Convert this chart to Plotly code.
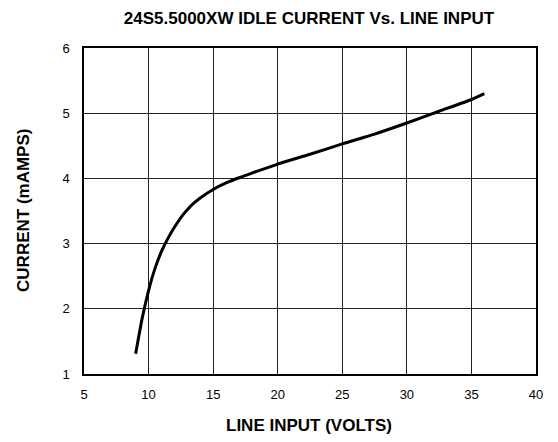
import plotly.graph_objects as go

line_input_v = [9.0, 9.5, 10.0, 10.5, 11.0, 11.5, 12.0, 12.5, 13.0, 13.5, 14.0, 15.0, 16.0, 17.0, 18.0, 20.0, 22.5, 25.0, 27.5, 30.0, 32.5, 35.0, 36.0]
idle_current_ma = [1.31, 1.85, 2.28, 2.62, 2.88, 3.08, 3.25, 3.40, 3.52, 3.62, 3.70, 3.83, 3.93, 4.01, 4.08, 4.22, 4.37, 4.53, 4.68, 4.85, 5.03, 5.21, 5.30]

title_text = "24S5.5000XW IDLE CURRENT Vs. LINE INPUT"
x_title = "LINE INPUT (VOLTS)"
y_title = "CURRENT (mAMPS)"
x_ticks = [5, 10, 15, 20, 25, 30, 35, 40]
y_ticks = [1, 2, 3, 4, 5, 6]

fig = go.Figure()
fig.add_trace(go.Scatter(
    x=line_input_v, y=idle_current_ma, mode="lines",
    line=dict(color="black", width=3, shape="spline", smoothing=0.6),
    showlegend=False, hoverinfo="skip"))

font_family = "Liberation Sans, Arial, Helvetica, sans-serif"
# page body has an 8px margin, so the figure is drawn 8px in from the window edge
W, H = 550, 434
ml, mr, mt, mb = 75.5, 21.5, 39.7, 68.3
pw, ph = W - ml - mr, H - mt - mb
fig.update_layout(
    width=W, height=H,
    margin=dict(l=ml, r=mr, t=mt, b=mb),
    paper_bgcolor="white", plot_bgcolor="white",
    font=dict(family=font_family, size=13, color="black"),
    title=dict(text="<b>" + title_text + "</b>", x=(309 - 8) / W, xanchor="center",
               y=1 - (18 - 8) / H, yanchor="middle", font=dict(size=17)),
    annotations=[
        dict(text="<b>" + x_title + "</b>", xref="paper", yref="paper",
             x=(309 - 8 - ml) / pw, y=-(425 - 373.7) / ph, xanchor="center", yanchor="middle",
             showarrow=False, font=dict(size=17)),
        dict(text="<b>" + y_title + "</b>", xref="paper", yref="paper",
             x=-(83.5 - 23) / pw, y=(373.7 - 210) / ph, xanchor="center", yanchor="middle",
             textangle=-90, showarrow=False, font=dict(size=17)),
    ],
)
fig.update_xaxes(
    range=[5, 40], tickvals=x_ticks, showgrid=True, gridcolor="#222222", gridwidth=1,
    showline=True, linecolor="black", linewidth=1.5, mirror=True, zeroline=False,
    ticks="", ticklen=0, tickfont=dict(size=13), ticklabelstandoff=8)
fig.update_yaxes(
    range=[1, 6], tickvals=y_ticks, showgrid=True, gridcolor="#222222", gridwidth=1,
    showline=True, linecolor="black", linewidth=1.5, mirror=True, zeroline=False,
    ticks="", ticklen=0, tickfont=dict(size=13), ticklabelstandoff=10)

fig.write_html("out.html")
